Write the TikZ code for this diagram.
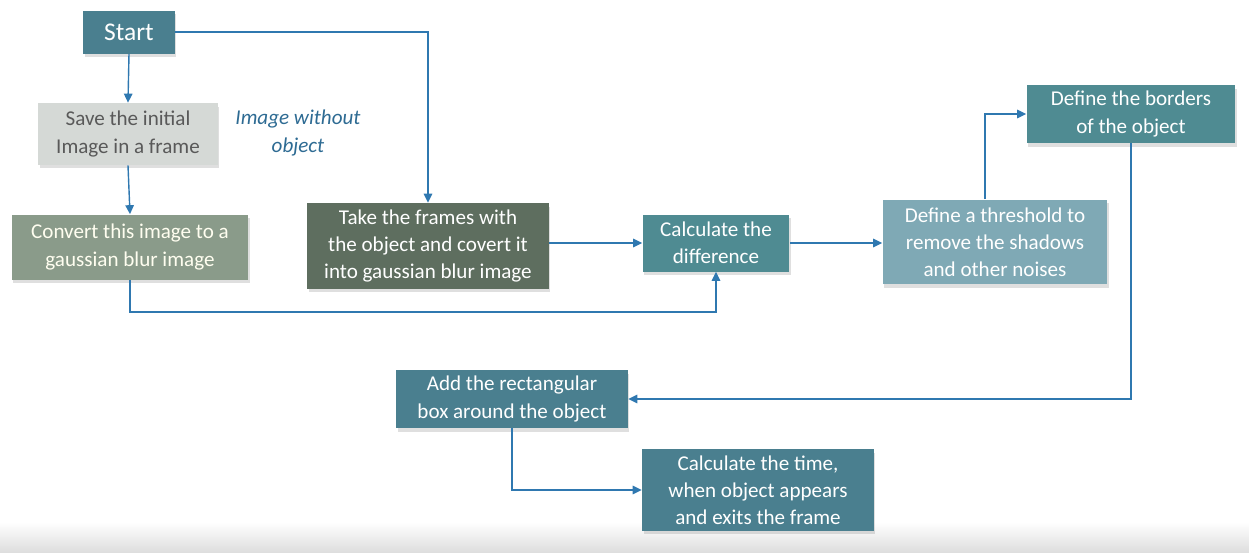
\documentclass[tikz,border=0pt]{standalone}
\usepackage{fontspec}
\setsansfont{Carlito}
\usetikzlibrary{arrows.meta, shadows}
\definecolor{cdeep}{HTML}{4A7F8F}
\definecolor{cteal}{HTML}{4F8B92}
\definecolor{csave}{HTML}{D5D9D6}
\definecolor{cconv}{HTML}{8A9B8A}
\definecolor{ctake}{HTML}{5E6E5F}
\definecolor{cthr}{HTML}{7FA9B5}
\definecolor{carrow}{HTML}{2F78B0}
\definecolor{cnote}{HTML}{2E6B93}
\definecolor{cgrey}{HTML}{595959}
\tikzset{
  every picture/.style={font=\sffamily},
  box/.style={fill=#1, text=white, align=center, inner sep=2pt,
    font=\sffamily\fontsize{12}{15.5}\selectfont,
    drop shadow={opacity=0.25, shadow xshift=0.03cm, shadow yshift=-0.07cm}},
  box/.default=cteal,
  arrow/.style={-{Triangle[length=1.8mm, width=1.7mm]}, draw=carrow, line width=0.8pt},
  note/.style={font=\sffamily\itshape\fontsize{12}{15.5}\selectfont, text=cnote, align=center},
}

\begin{document}
\begin{tikzpicture}[x=0.02cm, y=-0.02cm]
  \useasboundingbox (0,0) rectangle (1249,552);
  \shade[top color=white, bottom color=black!13] (0,522) rectangle (1249,552);

  % ---- left column
  \node[box=cdeep, minimum width=1.84cm, minimum height=0.86cm,
        font=\sffamily\fontsize{14.5}{16}\selectfont] (start) at (129,32) {Start};
  \node[box=csave, text=cgrey, minimum width=3.6cm, minimum height=1.24cm] (save) at (128,134)
    {Save the initial\\Image in a frame};
  \node[note] (without) at (298,133) {Image without\\object};
  \node[box=cconv, text=white!94!yellow, minimum width=4.74cm, minimum height=1.3cm] (conv) at (130,247)
    {Convert this image to a\\gaussian blur image};

  % ---- middle
  \node[box=ctake, minimum width=4.84cm, minimum height=1.72cm] (take) at (428,246)
    {Take the frames with\\the object and covert it\\into gaussian blur image};
  \node[box, minimum width=2.94cm, minimum height=1.14cm] (diff) at (716,243)
    {Calculate the\\difference};
  \node[box=cthr, minimum width=4.5cm, minimum height=1.7cm] (thr) at (995,242)
    {Define a threshold to\\remove the shadows\\and other noises};
  \node[box, minimum width=4.18cm, minimum height=1.16cm] (bord) at (1131,114)
    {Define the borders\\of the object};

  % ---- bottom
  \node[box=cdeep, minimum width=4.64cm, minimum height=1.16cm] (add) at (512,399)
    {Add the rectangular\\box around the object};
  \node[box=cdeep, minimum width=4.64cm, minimum height=1.64cm] (time) at (758,490)
    {Calculate the time,\\when object appears\\and exits the frame};

  % connectors
  \draw[arrow] (start.south) -- (save.north);
  \draw[arrow] (save.south) -- (conv.north);
  \draw[arrow] (start.east) -| (take.north);
  \draw[arrow] (conv.south) -- ++(0,32) -| (diff.south);
  \draw[arrow] (take.east |- diff.west) -- (diff.west);
  \draw[arrow] (diff.east) -- (diff.east -| thr.west);
  \draw[arrow] ([xshift=-0.2cm]thr.north) |- (bord.west);
  \draw[arrow] (bord.south) |- (add.east);
  \draw[arrow] (add.south) |- (time.west);
\end{tikzpicture}
\end{document}
